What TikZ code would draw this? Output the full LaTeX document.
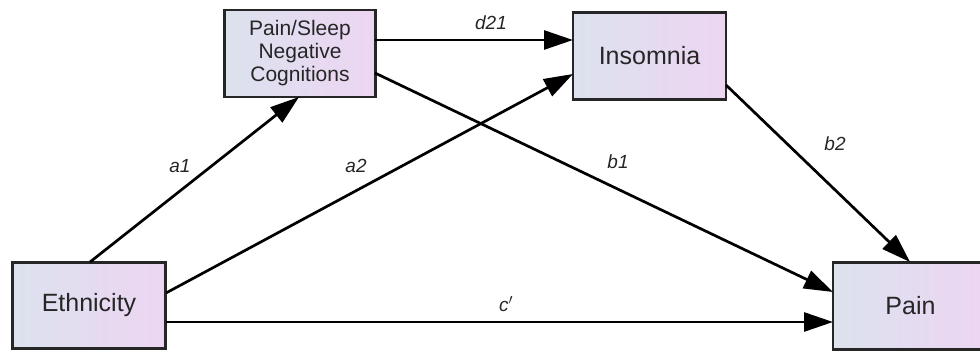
\documentclass[tikz,border=0pt]{standalone}
\usepackage{fontspec}
\setmainfont{Liberation Sans}
\usetikzlibrary{arrows.meta}
\definecolor{boxl}{HTML}{DCE2EE}
\definecolor{boxr}{HTML}{EDD5F2}
\begin{document}
\begin{tikzpicture}[x=1pt,y=-1pt,
  var/.style={draw=black!85,line width=2.6pt,left color=boxl,right color=boxr,shading angle=90,inner sep=0pt,align=center,text=black!85},
  path/.style={line width=2.7pt,-{Triangle[length=29pt,width=19pt]}},
  lab/.style={font=\itshape\fontsize{19}{22}\selectfont,text=black!85}]
\useasboundingbox (0,0) rectangle (980,352);
\node[var,minimum width=153pt,minimum height=86pt,font=\fontsize{25}{28}\selectfont] (eth) at (89,305.5) {Ethnicity};
\node[var,minimum width=151pt,minimum height=87pt,font=\fontsize{21}{23}\selectfont] (psn) at (300,53.5) {Pain/Sleep\\Negative\\Cognitions};
\node[var,minimum width=153pt,minimum height=87pt,font=\fontsize{25}{28}\selectfont] (ins) at (649.5,56) {Insomnia};
\node[var,minimum width=155pt,minimum height=87pt,font=\fontsize{25}{28}\selectfont] (pain) at (910.5,306) {Pain};
\coordinate (e1) at (90,262);
\coordinate (e2) at (166,293);
\coordinate (e3) at (166,322);
\coordinate (p1) at (299,97);
\coordinate (p2) at (375,40);
\coordinate (p3) at (375,73);
\coordinate (i1) at (573,40);
\coordinate (i2) at (573,74);
\coordinate (i3) at (726,85);
\coordinate (n1) at (910,262);
\coordinate (n2) at (833,292);
\coordinate (n3) at (833,322);
\draw[path] (e1) -- (p1);
\draw[path] (e2) -- (i2);
\draw[path] (e3) -- (n3);
\draw[path] (p2) -- (i1);
\draw[path] (p3) -- (n2);
\draw[path] (i3) -- (n1);
\node[lab] (la1) at (180,166) {a1};
\node[lab] (la2) at (356,166) {a2};
\node[lab] (ld21) at (491,23) {d21};
\node[lab] (lb1) at (618,162) {b1};
\node[lab] (lb2) at (835,144) {b2};
\node[lab] (lc) at (506,304) {c$'$};
\end{tikzpicture}
\end{document}
